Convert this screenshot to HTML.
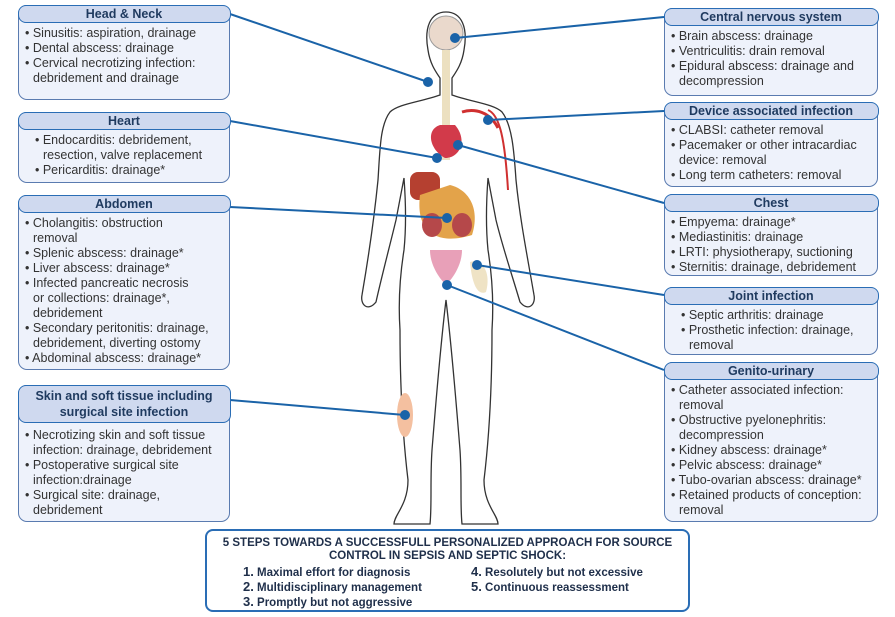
<!DOCTYPE html>
<html><head><meta charset="utf-8"><style>
body{margin:0;width:895px;height:617px;background:#fff;position:relative;overflow:hidden;font-family:"Liberation Sans",sans-serif;}
.box{position:absolute;border:1.5px solid #5a7bb0;border-radius:9px;background:#eef2fb;color:#333;font-size:12.5px;line-height:15px;box-sizing:border-box;}
.hd{background:#cfd9ef;border:1.5px solid #2a6db5;border-radius:8px;margin:-1.5px -1.5px 3px;text-align:center;font-weight:bold;color:#1f3a5f;font-size:12.5px;line-height:16px;}
.bd{padding:0 8px 3px 6px;}
.bd div{padding-left:8px;text-indent:-8px;}
svg{position:absolute;left:0;top:0;}
.steps{position:absolute;left:205px;top:529px;width:485px;height:83px;border:2.5px solid #2a6db5;border-radius:8px;box-sizing:border-box;text-align:center;font-weight:bold;font-size:11.5px;color:#1f2f4a;line-height:13px;padding-top:6px;}
</style></head><body>
<svg width="895" height="617">
<path fill="none" stroke="#333" stroke-width="1.3" d="M446,12 C430,12 424,28 428,50 C430,64 436,72 440,78 L440,95 C420,102 398,104 390,112 C380,125 380,150 378,180 C374,220 368,260 362,295 C360,305 368,312 376,302 C382,275 390,245 396,220 L404,178 C406,205 406,230 404,250 C400,275 398,300 400,330 C400,380 402,430 408,480 C408,505 394,515 394,524 L430,524 C432,505 430,480 432,450 C436,400 440,350 446,300 C452,350 456,400 460,450 C462,480 460,505 462,524 L498,524 C498,515 484,505 484,480 C490,430 492,380 492,330 C494,300 492,275 488,250 C486,230 486,205 488,178 L496,220 C502,245 512,275 520,302 C528,312 536,305 534,295 C528,260 520,220 516,180 C514,150 512,125 502,112 C494,104 472,102 452,95 L452,78 C456,72 462,64 464,50 C468,28 462,12 446,12 Z"/>
<circle cx="446" cy="33" r="17" fill="#ead9cc" stroke="#999"/>
<rect x="442" y="50" width="8" height="110" fill="#ece0c0"/>
<path d="M440,125 C425,130 430,150 445,158 C460,158 468,140 455,125 Z" fill="#d23a4a"/>
<rect x="410" y="172" width="30" height="28" rx="8" fill="#b54030"/>
<path d="M420,195 C415,235 440,245 472,235 C480,210 470,190 450,185 Z" fill="#e3a34a"/>
<ellipse cx="432" cy="225" rx="10" ry="12" fill="#b5484a"/>
<ellipse cx="462" cy="225" rx="10" ry="12" fill="#b5484a"/>
<path d="M430,250 C430,270 446,285 446,285 C446,285 462,270 462,250 Z" fill="#e8a0b8"/>
<path d="M470,262 C480,258 492,270 486,292 C478,296 472,285 470,262 Z" fill="#efe3c5"/>
<path d="M488,110 C500,115 505,140 508,190" stroke="#d03030" stroke-width="2" fill="none"/>
<path d="M462,112 C475,108 490,112 498,128" stroke="#d03030" stroke-width="3" fill="none"/>
<ellipse cx="405" cy="415" rx="8" ry="22" fill="#f4c0a0"/>
<g stroke="#1a63a8" stroke-width="2" fill="#1a63a8">
<line x1="230" y1="14" x2="428" y2="82"/><circle cx="428" cy="82" r="4"/>
<line x1="230" y1="121" x2="437" y2="158"/><circle cx="437" cy="158" r="4"/>
<line x1="230" y1="207" x2="447" y2="218"/><circle cx="447" cy="218" r="4"/>
<line x1="230" y1="400" x2="405" y2="415"/><circle cx="405" cy="415" r="4"/>
<line x1="664" y1="17" x2="455" y2="38"/><circle cx="455" cy="38" r="4"/>
<line x1="664" y1="111" x2="488" y2="120"/><circle cx="488" cy="120" r="4"/>
<line x1="664" y1="203" x2="458" y2="145"/><circle cx="458" cy="145" r="4"/>
<line x1="664" y1="295" x2="477" y2="265"/><circle cx="477" cy="265" r="4"/>
<line x1="664" y1="370" x2="447" y2="285"/><circle cx="447" cy="285" r="4"/>
</g>
</svg>

<div class="box" style="left:18px;top:5px;width:212px;height:95px"><div class="hd">Head &amp; Neck</div><div class="bd"><div>• Sinusitis: aspiration, drainage</div><div>• Dental abscess: drainage</div><div>• Cervical necrotizing infection: debridement and drainage</div></div></div>
<div class="box" style="left:18px;top:112px;width:212px;height:71px"><div class="hd">Heart</div><div class="bd" style="padding-left:16px"><div>• Endocarditis: debridement, resection, valve replacement</div><div>• Pericarditis: drainage*</div></div></div>
<div class="box" style="left:18px;top:195px;width:212px;height:175px"><div class="hd">Abdomen</div><div class="bd" style="padding-right:40px"><div>• Cholangitis: obstruction removal</div><div>• Splenic abscess: drainage*</div><div>• Liver abscess: drainage*</div><div style="margin-right:-8px">• Infected pancreatic necrosis or collections: drainage*, debridement</div><div style="margin-right:-40px">• Secondary peritonitis: drainage, debridement, diverting ostomy</div><div style="margin-right:-40px">• Abdominal abscess: drainage*</div></div></div>
<div class="box" style="left:18px;top:385px;width:212px;height:137px"><div class="hd" style="padding:2px 0">Skin and soft tissue including surgical site infection</div><div class="bd" style="padding-top:2px;padding-right:14px"><div>• Necrotizing skin and soft tissue infection: drainage, debridement</div><div>• Postoperative surgical site infection:drainage</div><div>• Surgical site: drainage, debridement</div></div></div>

<div class="box" style="left:664px;top:8px;width:214px;height:88px"><div class="hd">Central nervous system</div><div class="bd"><div>• Brain abscess: drainage</div><div>• Ventriculitis: drain removal</div><div>• Epidural abscess: drainage and decompression</div></div></div>
<div class="box" style="left:664px;top:102px;width:214px;height:85px"><div class="hd">Device associated infection</div><div class="bd"><div>• CLABSI: catheter removal</div><div>• Pacemaker or other intracardiac device: removal</div><div>• Long term catheters: removal</div></div></div>
<div class="box" style="left:664px;top:194px;width:214px;height:82px"><div class="hd">Chest</div><div class="bd" style="padding-right:2px"><div>• Empyema: drainage*</div><div>• Mediastinitis: drainage</div><div>• LRTI: physiotherapy, suctioning</div><div>• Sternitis: drainage, debridement</div></div></div>
<div class="box" style="left:664px;top:287px;width:214px;height:68px"><div class="hd">Joint infection</div><div class="bd" style="padding-left:16px"><div>• Septic arthritis: drainage</div><div>• Prosthetic infection: drainage, removal</div></div></div>
<div class="box" style="left:664px;top:362px;width:214px;height:160px"><div class="hd">Genito-urinary</div><div class="bd" style="padding-right:2px"><div>• Catheter associated infection: removal</div><div>• Obstructive pyelonephritis: decompression</div><div>• Kidney abscess: drainage*</div><div>• Pelvic abscess: drainage*</div><div>• Tubo-ovarian abscess: drainage*</div><div>• Retained products of conception: removal</div></div></div>

<div class="steps">5 STEPS TOWARDS A SUCCESSFULL PERSONALIZED APPROACH FOR SOURCE<br>CONTROL IN SEPSIS AND SEPTIC SHOCK:
<div style="display:flex;text-align:left;margin-top:2px;padding-left:36px">
<div style="width:228px"><span style="font-size:13px">1.</span> Maximal effort for diagnosis<br><span style="font-size:13px">2.</span> Multidisciplinary management<br><span style="font-size:13px">3.</span> Promptly but not aggressive</div>
<div><span style="font-size:13px">4.</span> Resolutely but not excessive<br><span style="font-size:13px">5.</span> Continuous reassessment</div>
</div></div>
</body></html>
